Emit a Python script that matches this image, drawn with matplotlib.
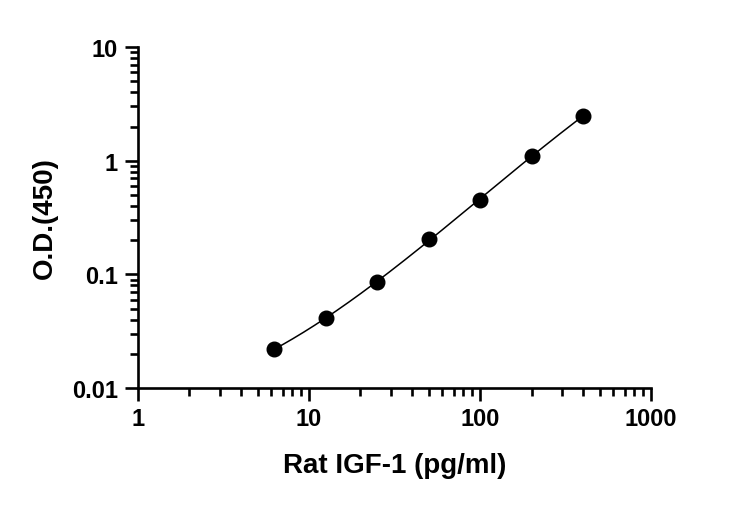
import numpy as np
import matplotlib
matplotlib.use("Agg")
import matplotlib.pyplot as plt
from matplotlib.ticker import LogLocator, FixedLocator, FixedFormatter, NullFormatter

# Standart eğrisi verileri
konsantrasyon = [6.25, 12.5, 25, 50, 100, 200, 400]
od_degerleri = [0.022, 0.041, 0.085, 0.206, 0.45, 1.09, 2.48]

x_ticks = [1, 10, 100, 1000]
x_tick_labels = ["1", "10", "100", "1000"]
y_ticks = [0.01, 0.1, 1, 10]
y_tick_labels = ["0.01", "0.1", "1", "10"]

plt.rcParams['font.family'] = ['Liberation Sans', 'DejaVu Sans']
plt.rcParams['font.weight'] = 'bold'

fig = plt.figure(figsize=(7.31, 5.06), dpi=100)
ax = fig.add_axes([0.1888, 0.2312, 0.7018, 0.6738])

# log-log uzayında eğri uydurma
lx = np.log10(konsantrasyon)
ly = np.log10(od_degerleri)
katsayilar = np.polyfit(lx, ly, 3)
xx = np.linspace(lx.min(), lx.max(), 200)
ax.plot(10 ** xx, 10 ** np.polyval(katsayilar, xx), color='black', lw=1.1, zorder=2)
ax.plot(konsantrasyon, od_degerleri, 'o', color='black', ms=10.5, zorder=3)

ax.set_xscale('log')
ax.set_yscale('log')
ax.set_xlim(1, 1000)
ax.set_ylim(0.01, 10)

ax.xaxis.set_major_locator(FixedLocator(x_ticks))
ax.xaxis.set_major_formatter(FixedFormatter(x_tick_labels))
ax.yaxis.set_major_locator(FixedLocator(y_ticks))
ax.yaxis.set_major_formatter(FixedFormatter(y_tick_labels))
ax.xaxis.set_minor_locator(LogLocator(base=10, subs=np.arange(2, 10)))
ax.yaxis.set_minor_locator(LogLocator(base=10, subs=np.arange(2, 10)))
ax.xaxis.set_minor_formatter(NullFormatter())
ax.yaxis.set_minor_formatter(NullFormatter())

for s in ['top', 'right']:
    ax.spines[s].set_visible(False)
for s in ['left', 'bottom']:
    ax.spines[s].set_linewidth(1.9)

ax.tick_params(which='major', direction='out', length=9.5, width=1.9, labelsize=17)
ax.tick_params(which='minor', direction='out', length=5.8, width=1.9)
ax.tick_params(axis='x', which='major', pad=4)
ax.tick_params(axis='y', which='major', pad=5)

ax.set_xlabel("Rat IGF-1 (pg/ml)", fontsize=20, fontweight='bold', labelpad=16)
ax.set_ylabel("O.D.(450)", fontsize=20, fontweight='bold', labelpad=10)

fig.savefig("out.png", dpi=100)
